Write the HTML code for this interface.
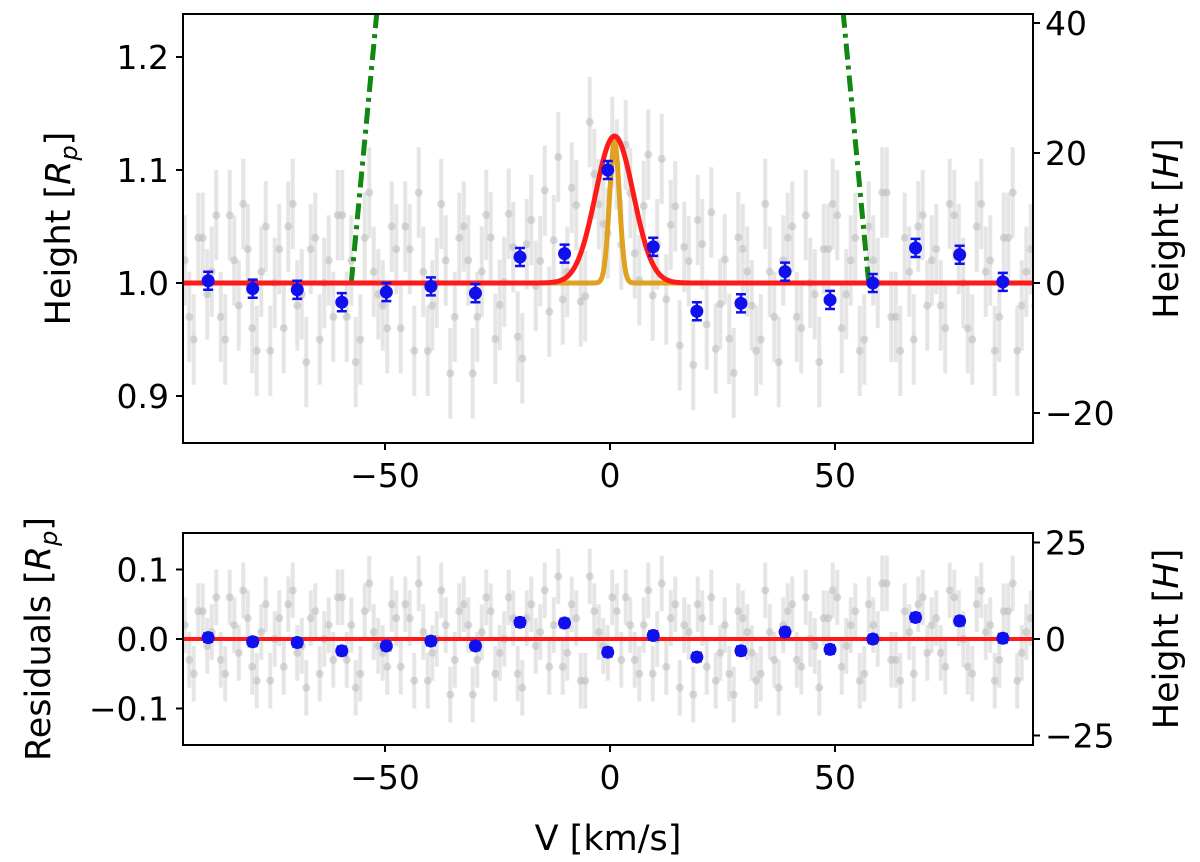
<!DOCTYPE html>
<html><head><meta charset="utf-8"><style>
body{margin:0;background:#fff}
svg{display:block;font-family:"DejaVu Sans","Liberation Sans",sans-serif}
</style></head><body>
<svg id="c" width="1200" height="862"></svg>
<script>
const binV=[-89.3,-79.4,-69.5,-59.6,-49.7,-39.8,-29.9,-20,-10.1,-0.5,9.6,19.3,29.1,38.9,48.9,58.4,67.9,77.7,87.3];
const binH=[1.002,0.995,0.994,0.983,0.992,0.997,0.991,1.023,1.026,1.100,1.032,0.975,0.982,1.010,0.985,1.000,1.031,1.025,1.001];
const binRes=[0.002,-0.004,-0.005,-0.017,-0.010,-0.003,-0.010,0.024,0.023,-0.019,0.005,-0.026,-0.017,0.010,-0.015,0.000,0.031,0.026,0.001];
const noise=[0.02,-0.05,0.04,0.01,-0.03,0.06,-0.02,0.03,-0.06,0.05,0.0,-0.04,0.07,-0.01,0.03,-0.05,0.02,0.06,-0.03,-0.07,0.04,0.01,-0.02,0.05,-0.04,0.03,0.08,-0.06,0.0,0.02,-0.03,0.05,-0.08,0.01,0.04,-0.02,0.06,-0.05,0.03,-0.01,0.07,0.02,-0.04,0.05,-0.06,0.09,0.01,-0.02,0.04,0.06,-0.03,0.02,-0.05,0.08,0.03,-0.07,0.01,0.05,-0.04,-0.06,0.02,-0.08,0.03,-0.02,-0.05,0.01,-0.07,0.04,-0.03,0.06,-0.01,0.03,0.07,-0.04,0.02,-0.06,0.05,0.0,0.08,-0.03,0.04,-0.05,0.06,0.02,-0.02,0.07,0.03,-0.04,0.05,0.01,-0.06,0.04,0.08,-0.02,0.03];
const noise2=[-0.03,0.04,-0.01,0.06,-0.05,0.02,0.07,-0.04,0.01,-0.06,0.03,0.05,-0.02,-0.07,0.04,0.0,-0.03,0.06,0.02,-0.05,0.08,-0.01,-0.04,0.03,0.05,-0.06,0.01,-0.02,0.07,-0.08,0.04,0.02,-0.03,0.06,-0.05,0.0,0.03,-0.07,0.05,0.01,-0.04,0.09,-0.02,0.03,-0.06,0.04,-0.01,0.06,-0.03,0.02,-0.05,0.07,0.0,-0.04,0.05,0.02,-0.08,0.03,0.06,-0.02,-0.05,0.04,0.01,-0.06,0.07,-0.03,0.02,0.05,-0.04,0.0,-0.07,0.03,0.06,-0.01,0.04,-0.05,0.02,0.08,-0.03,-0.06,0.01,0.05,-0.02,0.03,-0.04,0.06,0.0,-0.05,0.07,0.02,-0.03,0.04,-0.06,0.01,-0.02];
const xTicks=[-50,0,50];
const topLTicks=[0.9,1.0,1.1,1.2];
const topRTicks=[-20,0,20,40];
const botLTicks=[-0.1,0.0,0.1];
const botRTicks=[-25,0,25];
const gauss={amp:0.13,mu:1,sig:4.2};
const narrow={amp:0.125,mu:1,sig:1.1};
const greenV=[[-57.5,1.0],[-51.8,1.24]],greenV2=[[51.8,1.24],[57.5,1.0]];

const svg=document.getElementById('c');const NS='http://www.w3.org/2000/svg';
function el(t,a,p){const e=document.createElementNS(NS,t);for(const k in a)e.setAttribute(k,a[k]);(p||svg).appendChild(e);return e;}
const L=183,R=1033;
const X=v=>610+(v)*4.5;
const T={t:14,b:443,Y:h=>283-(h-1)*1130,YR:h=>283-h*6.5};
const B={t:533,b:745,Y:r=>639-r*695,YR:h=>639-h*3.86};
function clip(id,p){const d=el('clipPath',{id});el('rect',{x:L,y:p.t,width:R-L,height:p.b-p.t},d);}
const defs=el('defs',{});clip('ct',T);clip('cb',B);svg.appendChild(defs);
function panel(P,name,yl,yt,yrt,lab,rlab,cid,isTop){
 const g=el('g',{'clip-path':'url(#'+cid+')'});
 
 const sets=[[noise,-94.5],[noise2,-93.5]];
 for(const [arr,start] of sets){const n=arr.length;
 for(let i=0;i<n;i++){const v=start+i*(188/(n-1));
  const base=isTop?1+0.5*gauss.amp*Math.exp(-((v-gauss.mu)**2)/(2*(gauss.sig*2)**2)):0;
  const y=base+arr[i];
  const yy=P.Y(y),e=0.04;
  const ln=el('line',{x1:X(v),x2:X(v),y1:P.Y(y+e),y2:P.Y(y-e),stroke:'#d0d0d0','stroke-width':4,opacity:0.55},g);
  
  const c=el('circle',{cx:X(v),cy:yy,r:4,fill:'#bbb',opacity:0.55},g);
  }}
 if(isTop){
  let d1='',d2='';for(let v=-95;v<=95;v+=0.25){const y1=1+gauss.amp*Math.exp(-((v-gauss.mu)**2)/(2*gauss.sig**2));const y2=1+narrow.amp*Math.exp(-((v-narrow.mu)**2)/(2*narrow.sig**2));d1+=(d1?'L':'M')+X(v)+','+P.Y(y1);d2+=(d2?'L':'M')+X(v)+','+P.Y(y2);}
  const o=el('path',{d:d2,fill:'none',stroke:'#e0a020','stroke-width':5},g);
  for(const gv of [greenV,greenV2]){const gl=el('line',{x1:X(gv[0][0]),y1:P.Y(gv[0][1]),x2:X(gv[1][0]),y2:P.Y(gv[1][1]),stroke:'#118811','stroke-width':5,'stroke-dasharray':'16 6 4 6'},g);}
  const r=el('path',{d:d1,fill:'none',stroke:'#ff1a1a','stroke-width':5},g);
 } else {const r=el('line',{x1:L,x2:R,y1:P.Y(0),y2:P.Y(0),stroke:'#ff1a1a','stroke-width':4},g);}
 const vals=isTop?binH:binRes;
 binV.forEach((v,i)=>{const y=vals[i],e=isTop?0.008:0.006;
  const b=el('path',{d:`M${X(v)},${P.Y(y+e)}V${P.Y(y-e)}M${X(v)-5},${P.Y(y+e)}h10M${X(v)-5},${P.Y(y-e)}h10`,stroke:'#1010ee','stroke-width':2.5,fill:'none'},g);
  
  const c=el('circle',{cx:X(v),cy:P.Y(y),r:6.5,fill:'#1010ee'},g);
  });
 const fr=el('rect',{x:L,y:P.t,width:R-L,height:P.b-P.t,fill:'none',stroke:'#000','stroke-width':2});
 
 xTicks.forEach(t=>{el('line',{x1:X(t),x2:X(t),y1:P.b,y2:P.b+7,stroke:'#000','stroke-width':2});
  const tx=el('text',{x:X(t),y:P.b+44,'font-size':33,'text-anchor':'middle'});tx.textContent=t<0?'−'+(-t):t;
  });
 yt.forEach(t=>{const y=P.Y(t);el('line',{x1:L-7,x2:L,y1:y,y2:y,stroke:'#000','stroke-width':2});
  const tx=el('text',{x:L-14,y:y+12,'font-size':33,'text-anchor':'end'});tx.textContent=(t<0?'−':'')+Math.abs(t).toFixed(1);
  });
 yrt.forEach(t=>{const y=P.YR(t);el('line',{x1:R,x2:R+7,y1:y,y2:y,stroke:'#000','stroke-width':2});
  const tx=el('text',{x:R+12,y:y+12,'font-size':33});tx.textContent=(t<0?'−':'')+Math.abs(t);
  });
 const cy=(P.t+P.b)/2;
 const yl1=el('text',{x:0,y:0,'font-size':35,'text-anchor':'middle',transform:`translate(${yl},${cy}) rotate(-90)`});yl1.innerHTML=lab;
 
 const yl2=el('text',{x:0,y:0,'font-size':35,'text-anchor':'middle',transform:`translate(1178,${cy}) rotate(-90)`});yl2.innerHTML=rlab;
 
}
panel(T,'top','70',topLTicks,topRTicks,'Height [<tspan font-style="italic">R</tspan><tspan font-style="italic" font-size="24" dy="7">p</tspan><tspan dy="-7">]</tspan>','Height [<tspan font-style="italic">H</tspan>]','ct',true);
panel(B,'bottom','50',botLTicks,botRTicks,'Residuals [<tspan font-style="italic">R</tspan><tspan font-style="italic" font-size="24" dy="7">p</tspan><tspan dy="-7">]</tspan>','Height [<tspan font-style="italic">H</tspan>]','cb',false);
const xl=el('text',{x:608,y:850,'font-size':35,'text-anchor':'middle'});xl.textContent='V [km/s]';

</script>
</body></html>
